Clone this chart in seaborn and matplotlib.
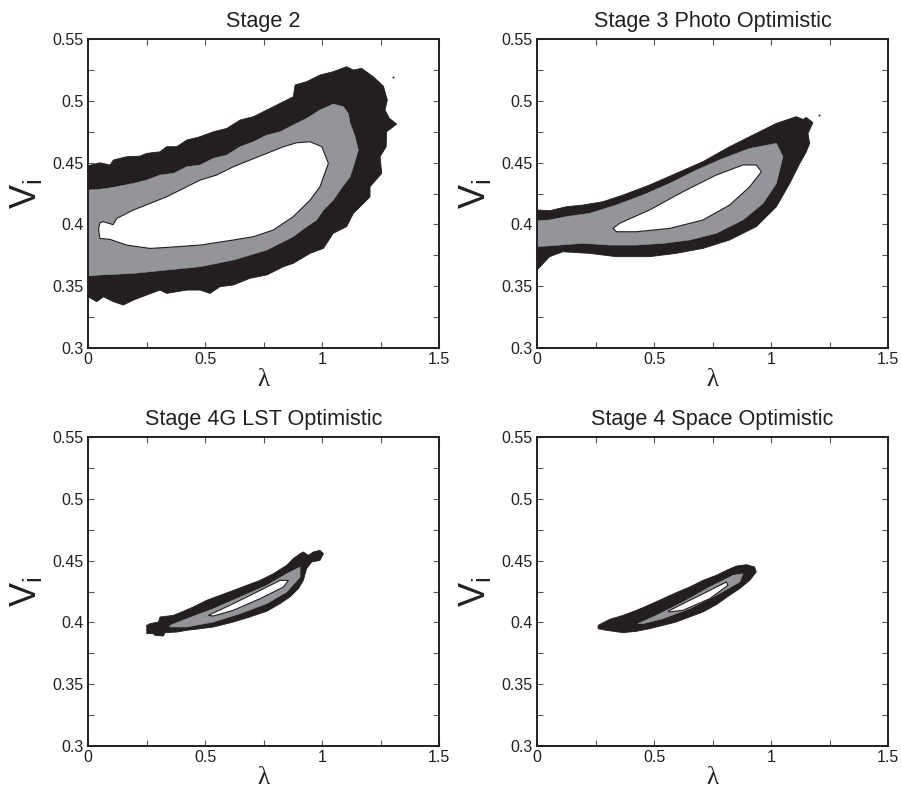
import matplotlib
matplotlib.use("Agg")
import matplotlib.pyplot as plt
import seaborn as sns
import pandas as pd
from matplotlib.ticker import FixedLocator, FuncFormatter

# ---------------------------------------------------------------------------
# Confidence-region boundaries in the (lambda, V_i) plane, per survey stage.
# Each region is given as a closed outline: lam = lambda values, v = V_i values.
# ---------------------------------------------------------------------------
titles = ["Stage 2", "Stage 3 Photo Optimistic",
          "Stage 4G LST Optimistic", "Stage 4 Space Optimistic"]

# Stage 2
s2_outer_lam = [0.00, 0.051, 0.094, 0.108, 0.165, 0.222, 0.251, 0.308, 0.336, 0.379,
                0.422, 0.479, 0.536, 0.593, 0.650, 0.707, 0.764, 0.821, 0.877, 0.885,
                0.934, 0.991, 1.048, 1.105, 1.134, 1.169, 1.219, 1.262, 1.279, 1.269,
                1.288, 1.319, 1.276, 1.274, 1.248, 1.255, 1.205, 1.205, 1.177, 1.134,
                1.105, 1.048, 1.006, 0.949, 0.877, 0.835, 0.764, 0.692, 0.621, 0.564,
                0.521, 0.479, 0.422, 0.336, 0.308, 0.251, 0.194, 0.151, 0.108, 0.066,
                0.037, 0.00]
s2_outer_v = [0.4475, 0.4499, 0.4481, 0.4521, 0.4548, 0.4553, 0.4575, 0.4588, 0.4629, 0.4629,
              0.4683, 0.4710, 0.4750, 0.4777, 0.4845, 0.4872, 0.4926, 0.4980, 0.5033, 0.5128,
              0.5155, 0.5209, 0.5236, 0.5276, 0.5249, 0.5263, 0.5195, 0.5120, 0.5006, 0.4926,
              0.4858, 0.4812, 0.4750, 0.4629, 0.4548, 0.4413, 0.4305, 0.4224, 0.4170, 0.4090,
              0.3982, 0.3928, 0.3806, 0.3766, 0.3685, 0.3658, 0.3591, 0.3564, 0.3510, 0.3496,
              0.3442, 0.3469, 0.3469, 0.3442, 0.3469, 0.3429, 0.3388, 0.3348, 0.3375, 0.3415,
              0.3375, 0.3415]
s2_mid_lam = [0.00, 0.051, 0.108, 0.194, 0.251, 0.308, 0.365, 0.422, 0.479, 0.536,
              0.593, 0.650, 0.707, 0.764, 0.821, 0.877, 0.934, 0.991, 1.048, 1.091,
              1.112, 1.120, 1.141, 1.155, 1.134, 1.120, 1.077, 1.048, 1.006, 0.977,
              0.934, 0.877, 0.821, 0.764, 0.692, 0.621, 0.550, 0.479, 0.336, 0.194,
              0.051, 0.00]
s2_mid_v = [0.4278, 0.4284, 0.4300, 0.4332, 0.4359, 0.4400, 0.4413, 0.4467, 0.4481, 0.4535,
            0.4561, 0.4629, 0.4669, 0.4723, 0.4750, 0.4804, 0.4858, 0.4926, 0.4974, 0.4953,
            0.4899, 0.4818, 0.4710, 0.4602, 0.4467, 0.4386, 0.4278, 0.4197, 0.4117, 0.4036,
            0.3982, 0.3901, 0.3847, 0.3793, 0.3752, 0.3712, 0.3685, 0.3658, 0.3631, 0.3604,
            0.3591, 0.3583]
s2_inner_lam = [0.051, 0.045, 0.051, 0.066, 0.107, 0.123, 0.194, 0.265, 0.336, 0.422,
                0.479, 0.550, 0.621, 0.692, 0.764, 0.835, 0.892, 0.949, 0.999, 1.027,
                0.991, 0.949, 0.877, 0.792, 0.707, 0.621, 0.479, 0.336, 0.265, 0.165,
                0.094]
s2_inner_v = [0.3887, 0.3960, 0.4015, 0.4022, 0.3998, 0.4049, 0.4117, 0.4170, 0.4224, 0.4305,
              0.4359, 0.4400, 0.4467, 0.4521, 0.4575, 0.4629, 0.4661, 0.4669, 0.4629, 0.4494,
              0.4305, 0.4197, 0.4063, 0.3955, 0.3901, 0.3874, 0.3833, 0.3814, 0.3806, 0.3833,
              0.3879]
s2_speck_lam = [1.305]
s2_speck_v = [0.5190]

# Stage 3 Photo Optimistic
s3_outer_lam = [0.00, 0.054, 0.125, 0.197, 0.282, 0.368, 0.481, 0.595, 0.709, 0.823,
                0.937, 1.023, 1.108, 1.137, 1.151, 1.179, 1.158, 1.165, 1.151, 1.123,
                1.080, 1.023, 0.937, 0.823, 0.709, 0.595, 0.481, 0.339, 0.225, 0.111,
                0.054, 0.00]
s3_outer_v = [0.4117, 0.4111, 0.4143, 0.4157, 0.4184, 0.4238, 0.4319, 0.4413, 0.4508, 0.4629,
              0.4737, 0.4818, 0.4872, 0.4850, 0.4866, 0.4823, 0.4737, 0.4656, 0.4588, 0.4494,
              0.4332, 0.4143, 0.3982, 0.3874, 0.3806, 0.3766, 0.3739, 0.3739, 0.3766, 0.3779,
              0.3739, 0.3631]
s3_mid_lam = [0.00, 0.054, 0.125, 0.225, 0.339, 0.453, 0.567, 0.681, 0.795, 0.909,
              1.023, 1.051, 1.023, 0.966, 0.880, 0.766, 0.652, 0.538, 0.425, 0.311,
              0.197, 0.097, 0.00]
s3_mid_v = [0.4030, 0.4036, 0.4063, 0.4090, 0.4157, 0.4238, 0.4332, 0.4440, 0.4534, 0.4615,
            0.4656, 0.4548, 0.4332, 0.4170, 0.4036, 0.3928, 0.3874, 0.3847, 0.3833, 0.3833,
            0.3847, 0.3833, 0.3820]
s3_inner_lam = [0.325, 0.353, 0.481, 0.624, 0.766, 0.880, 0.937, 0.959, 0.909, 0.823,
                0.709, 0.567, 0.425, 0.339]
s3_inner_v = [0.3968, 0.4009, 0.4117, 0.4265, 0.4400, 0.4481, 0.4481, 0.4427, 0.4305, 0.4157,
              0.4036, 0.3968, 0.3941, 0.3941]
s3_speck_lam = [1.205]
s3_speck_v = [0.4885]

# Stage 4G LST Optimistic
s4g_outer_lam = [0.251, 0.251, 0.279, 0.286, 0.322, 0.329, 0.379, 0.422, 0.479, 0.536,
                 0.564, 0.621, 0.692, 0.764, 0.821, 0.863, 0.899, 0.920, 0.934, 0.956,
                 0.991, 1.006, 0.991, 0.963, 0.942, 0.920, 0.906, 0.877, 0.849, 0.792,
                 0.735, 0.678, 0.621, 0.564, 0.507, 0.450, 0.400, 0.365, 0.308, 0.301,
                 0.265]
s4g_outer_v = [0.3976, 0.3909, 0.3909, 0.3895, 0.3890, 0.3917, 0.3922, 0.3936, 0.3949, 0.3963,
               0.3976, 0.4003, 0.4044, 0.4090, 0.4152, 0.4206, 0.4273, 0.4340, 0.4435, 0.4489,
               0.4502, 0.4556, 0.4583, 0.4570, 0.4543, 0.4570, 0.4556, 0.4516, 0.4462, 0.4394,
               0.4340, 0.4300, 0.4259, 0.4219, 0.4179, 0.4125, 0.4084, 0.4057, 0.4044, 0.4003,
               0.3990]
s4g_mid_lam = [0.350, 0.422, 0.536, 0.650, 0.764, 0.849, 0.906, 0.906, 0.849, 0.764,
               0.650, 0.536, 0.422, 0.350]
s4g_mid_v = [0.3976, 0.4030, 0.4111, 0.4205, 0.4300, 0.4394, 0.4448, 0.4367, 0.4246, 0.4152,
             0.4071, 0.4003, 0.3963, 0.3963]
s4g_inner_lam = [0.514, 0.621, 0.735, 0.821, 0.856, 0.835, 0.735, 0.621, 0.536]
s4g_inner_v = [0.4057, 0.4152, 0.4259, 0.4340, 0.4340, 0.4286, 0.4192, 0.4098, 0.4052]

# Stage 4 Space Optimistic
s4s_outer_lam = [0.261, 0.261, 0.296, 0.368, 0.425, 0.481, 0.538, 0.595, 0.652, 0.709,
                 0.766, 0.823, 0.866, 0.909, 0.937, 0.930, 0.895, 0.852, 0.809, 0.766,
                 0.709, 0.652, 0.595, 0.538, 0.481, 0.425, 0.368, 0.311, 0.275]
s4s_outer_v = [0.3976, 0.3949, 0.3936, 0.3917, 0.3928, 0.3949, 0.3976, 0.4003, 0.4044, 0.4084,
               0.4143, 0.4219, 0.4273, 0.4340, 0.4408, 0.4448, 0.4467, 0.4456, 0.4421, 0.4381,
               0.4340, 0.4286, 0.4241, 0.4192, 0.4143, 0.4098, 0.4057, 0.4025, 0.3990]
s4s_mid_lam = [0.432, 0.510, 0.624, 0.738, 0.838, 0.880, 0.866, 0.766, 0.652, 0.538,
               0.453]
s4s_mid_v = [0.3990, 0.4057, 0.4165, 0.4286, 0.4381, 0.4394, 0.4327, 0.4219, 0.4111, 0.4030,
             0.3990]
s4s_inner_lam = [0.560, 0.624, 0.738, 0.809, 0.816, 0.738, 0.624, 0.566]
s4s_inner_v = [0.4090, 0.4152, 0.4259, 0.4327, 0.4300, 0.4192, 0.4098, 0.4085]

x_major = [0, 0.5, 1.0, 1.5]
x_minor = [0.25, 0.75, 1.25]
y_major = [0.30, 0.35, 0.40, 0.45, 0.50, 0.55]
y_minor = [0.325, 0.375, 0.425, 0.475, 0.525]

panels = [
    (s2_outer_lam, s2_outer_v, s2_mid_lam, s2_mid_v, s2_inner_lam, s2_inner_v,
     s2_speck_lam, s2_speck_v),
    (s3_outer_lam, s3_outer_v, s3_mid_lam, s3_mid_v, s3_inner_lam, s3_inner_v,
     s3_speck_lam, s3_speck_v),
    (s4g_outer_lam, s4g_outer_v, s4g_mid_lam, s4g_mid_v, s4g_inner_lam, s4g_inner_v,
     [], []),
    (s4s_outer_lam, s4s_outer_v, s4s_mid_lam, s4s_mid_v, s4s_inner_lam, s4s_inner_v,
     [], []),
]

sns.set_theme(style="white")
plt.rcParams["font.family"] = ["Liberation Sans", "DejaVu Sans"]
plt.rcParams["mathtext.fontset"] = "custom"
plt.rcParams["mathtext.rm"] = "Liberation Sans"

DARK = "#231f20"
GREY = "#939598"

fig = plt.figure(figsize=(9.01, 7.89), dpi=100)
fig.patch.set_facecolor("white")
lefts = [0.0977, 0.5960]
bottoms = [0.5589, 0.0545]
W, H = 0.3896, 0.3916

def fmt(v, _pos):
    return ("%g" % round(v, 3))

for k, (title, data) in enumerate(zip(titles, panels)):
    r, c = divmod(k, 2)
    ax = fig.add_axes([lefts[c], bottoms[r], W, H])
    olam, ov, mlam, mv, ilam, iv, plam, pv = data
    ax.fill(olam, ov, facecolor=DARK, edgecolor=DARK, linewidth=0.6, zorder=1)
    ax.fill(mlam, mv, facecolor=GREY, edgecolor=GREY, linewidth=0.4, zorder=2)
    ax.fill(ilam, iv, facecolor="white", edgecolor=DARK, linewidth=0.8, zorder=3)
    if plam:
        sns.scatterplot(data=pd.DataFrame({"lam": plam, "v": pv}), x="lam", y="v",
                        ax=ax, color=DARK, s=2, linewidth=0, zorder=4, legend=False)

    ax.set_xlim(0, 1.5)
    ax.set_ylim(0.3, 0.55)
    ax.xaxis.set_major_locator(FixedLocator(x_major))
    ax.xaxis.set_minor_locator(FixedLocator(x_minor))
    ax.yaxis.set_major_locator(FixedLocator(y_major))
    ax.yaxis.set_minor_locator(FixedLocator(y_minor))
    ax.xaxis.set_major_formatter(FuncFormatter(fmt))
    ax.yaxis.set_major_formatter(FuncFormatter(fmt))
    ax.tick_params(which="both", direction="in", top=True, right=True,
                   bottom=True, left=True,
                   length=4, width=0.8, color="#555555",
                   labelsize=11.5, labelcolor=DARK, pad=3)
    for sp in ax.spines.values():
        sp.set_visible(True)
        sp.set_linewidth(1.4)
        sp.set_color(DARK)
    ax.set_facecolor("white")
    ax.grid(False)
    ax.set_xlabel("λ", fontsize=18, family="Liberation Serif", color=DARK, labelpad=1)
    ax.set_ylabel(r"$\mathregular{V_i}$", fontsize=26, color=DARK, labelpad=6)
    ax.set_title(title, fontsize=15.6, color=DARK, pad=9)

fig.savefig("out.png", dpi=100, facecolor="white")
